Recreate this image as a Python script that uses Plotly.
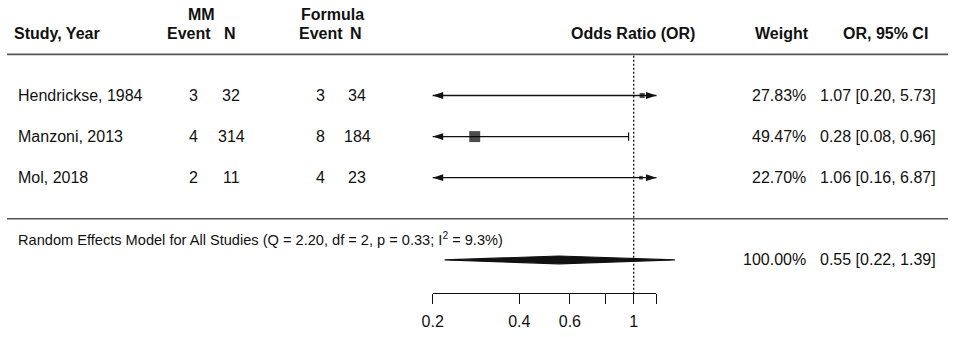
import math
import plotly.graph_objects as go

# ---------------- data ----------------
studies = ["Hendrickse, 1984", "Manzoni, 2013", "Mol, 2018"]
mm_event = [3, 4, 2]
mm_n = [32, 314, 11]
formula_event = [3, 8, 4]
formula_n = [34, 184, 23]
odds_ratio = [1.07, 0.28, 1.06]
ci_lower = [0.20, 0.08, 0.16]
ci_upper = [5.73, 0.96, 6.87]
weights = [27.83, 49.47, 22.70]

summary_or = 0.55
summary_lower = 0.22
summary_upper = 1.39
summary_weight = 100.00
summary_label = ("Random Effects Model for All Studies (Q = 2.20, df = 2, p = 0.33; "
                 "I<sup>2</sup> = 9.3%)")

axis_limits = [0.2, 1.2]
tick_values = [0.2, 0.4, 0.6, 1]
tick_labels = ["0.2", "0.4", "0.6", "1"]
minor_tick_values = [0.8, 1.2]

# ---------------- layout constants ----------------
W, H = 957, 337
FONT = "Arial, 'Liberation Sans', sans-serif"
study_rows = [3, 2, 1]
summary_row = -1
header_row = 4
sep_row = 0
axis_row = -1.805

def px(x):
    return x / W

fig = go.Figure()

# CI lines
for r, lo, hi in zip(study_rows, ci_lower, ci_upper):
    fig.add_trace(go.Scatter(
        x=[max(lo, axis_limits[0]), min(hi, axis_limits[1])], y=[r, r],
        mode="lines", line=dict(color="#111", width=1.3),
        hoverinfo="skip", showlegend=False))

# arrows for clipped CIs and end ticks for unclipped ends
arr_x, arr_y, arr_ang = [], [], []
tick_x, tick_y = [], []
for r, lo, hi in zip(study_rows, ci_lower, ci_upper):
    if lo <= axis_limits[0]:
        arr_x.append(axis_limits[0]); arr_y.append(r); arr_ang.append(-90)
    else:
        tick_x.append(lo); tick_y.append(r)
    if hi >= axis_limits[1]:
        arr_x.append(axis_limits[1]); arr_y.append(r); arr_ang.append(90)
    else:
        tick_x.append(hi); tick_y.append(r)
fig.add_trace(go.Scatter(
    x=arr_x, y=arr_y, mode="markers",
    marker=dict(symbol="arrow", size=11, angle=arr_ang, color="#111",
                line=dict(width=0)),
    hoverinfo="skip", showlegend=False))
if tick_x:
    fig.add_trace(go.Scatter(
        x=tick_x, y=tick_y, mode="markers",
        marker=dict(symbol="line-ns", size=6, line=dict(color="#111", width=1.2)),
        hoverinfo="skip", showlegend=False))

# squares sized by weight (metafor style rescale 0.5..1.5)
wmin, wmax = min(weights), max(weights)
sizes = [7.3 * (0.5 + (w - wmin) / (wmax - wmin)) for w in weights]
fig.add_trace(go.Scatter(
    x=odds_ratio, y=study_rows, mode="markers",
    marker=dict(symbol="square", size=sizes, color="#000", line=dict(width=0)),
    hoverinfo="skip", showlegend=False))

# summary diamond
dh = 0.095
fig.add_trace(go.Scatter(
    x=[summary_lower, summary_or, summary_upper, summary_or, summary_lower],
    y=[summary_row, summary_row + dh, summary_row, summary_row - dh, summary_row],
    mode="lines", fill="toself", fillcolor="#111",
    line=dict(color="#111", width=1.2), hoverinfo="skip", showlegend=False))

# reference line at OR = 1
fig.add_trace(go.Scatter(
    x=[1, 1], y=[header_row - 0.03, axis_row], mode="lines",
    line=dict(color="#111", width=1.3, dash="2px,2px"),
    hoverinfo="skip", showlegend=False))

# dummy trace to carry the OR axis
fig.add_trace(go.Scatter(
    x=axis_limits, y=[axis_row, axis_row], xaxis="x2", yaxis="y",
    mode="markers", marker=dict(opacity=0), hoverinfo="skip", showlegend=False))

# horizontal rules
for r in (header_row, sep_row):
    fig.add_shape(type="line", xref="paper", yref="y", x0=px(7), x1=px(948),
                  y0=r, y1=r, line=dict(color="#555", width=1.6))

ann = []
def txt(x, y, s, anchor="left", size=16):
    ann.append(dict(x=px(x), y=y, xref="paper", yref="y", text=s,
                    showarrow=False, xanchor=anchor, yanchor="middle",
                    font=dict(family=FONT, size=size, color="#111")))

# headers
hb = lambda s: "<b>%s</b>" % s
txt(12, 4.5, hb("Study, Year"))
txt(201, 4.97, hb("MM"), "center")
txt(189, 4.5, hb("Event"), "center")
txt(229.5, 4.5, hb("N"), "center")
txt(332, 4.97, hb("Formula"), "center")
txt(321, 4.5, hb("Event"), "center")
txt(356, 4.5, hb("N"), "center")
txt(633, 4.5, hb("Odds Ratio (OR)"), "center")
txt(811, 4.5, hb("Weight"), "right")
txt(929.5, 4.5, hb("OR, 95% CI"), "right")

# study rows
for i, r in enumerate(study_rows):
    txt(16, r, studies[i])
    txt(193, r, str(mm_event[i]), "center")
    txt(231, r, str(mm_n[i]), "center")
    txt(320, r, str(formula_event[i]), "center")
    txt(357, r, str(formula_n[i]), "center")
    txt(808, r, "%.2f%%" % weights[i], "right")
    txt(938, r, "%.2f [%.2f, %.2f]" % (odds_ratio[i], ci_lower[i], ci_upper[i]), "right")

# summary
txt(16, -0.5, summary_label, size=14.6)
txt(808, summary_row, "%.2f%%" % summary_weight, "right")
txt(938, summary_row, "%.2f [%.2f, %.2f]" % (summary_or, summary_lower, summary_upper), "right")

# axis scale: 0.2 at x=432.7px, 1 at 633.7px
ppu = (633.7 - 432.7) / (math.log10(1) - math.log10(0.2))
lo_edge = math.log10(0.2) - 432.7 / ppu
hi_edge = math.log10(0.2) + (W - 432.7) / ppu
d0 = 432.7 / W
d1 = (432.7 + (math.log10(1.2) - math.log10(0.2)) * ppu) / W

row_px = 41.1
y_top = 3 + 95.5 / row_px
y_bot = 3 - (H - 95.5) / row_px

tick_style = dict(ticks="outside", ticklen=10, tickwidth=1.2, tickcolor="#111")
fig.update_layout(
    width=W, height=H,
    margin=dict(l=0, r=0, t=0, b=0, pad=0, autoexpand=False),
    paper_bgcolor="white", plot_bgcolor="rgba(0,0,0,0)",
    showlegend=False, annotations=ann,
    xaxis=dict(type="log", range=[lo_edge, hi_edge], visible=False,
               domain=[0, 1], fixedrange=True, automargin=False),
    xaxis2=dict(type="log", range=[math.log10(0.2), math.log10(1.2)],
                domain=[d0, d1], anchor="free",
                position=1 - 293 / H, side="bottom", automargin=False,
                showline=True, linecolor="#111", linewidth=1.2,
                tickmode="array", tickvals=tick_values, ticktext=tick_labels,
                ticklabelstandoff=4,
                minor=dict(tickvals=minor_tick_values, **tick_style),
                tickfont=dict(family=FONT, size=16, color="#111"),
                showgrid=False, zeroline=False, fixedrange=True, **tick_style),
    yaxis=dict(range=[y_bot, y_top], visible=False, fixedrange=True,
               automargin=False),
)

fig.write_html("out.html", config={"displayModeBar": False},
               post_script="document.body.style.margin='0';")
